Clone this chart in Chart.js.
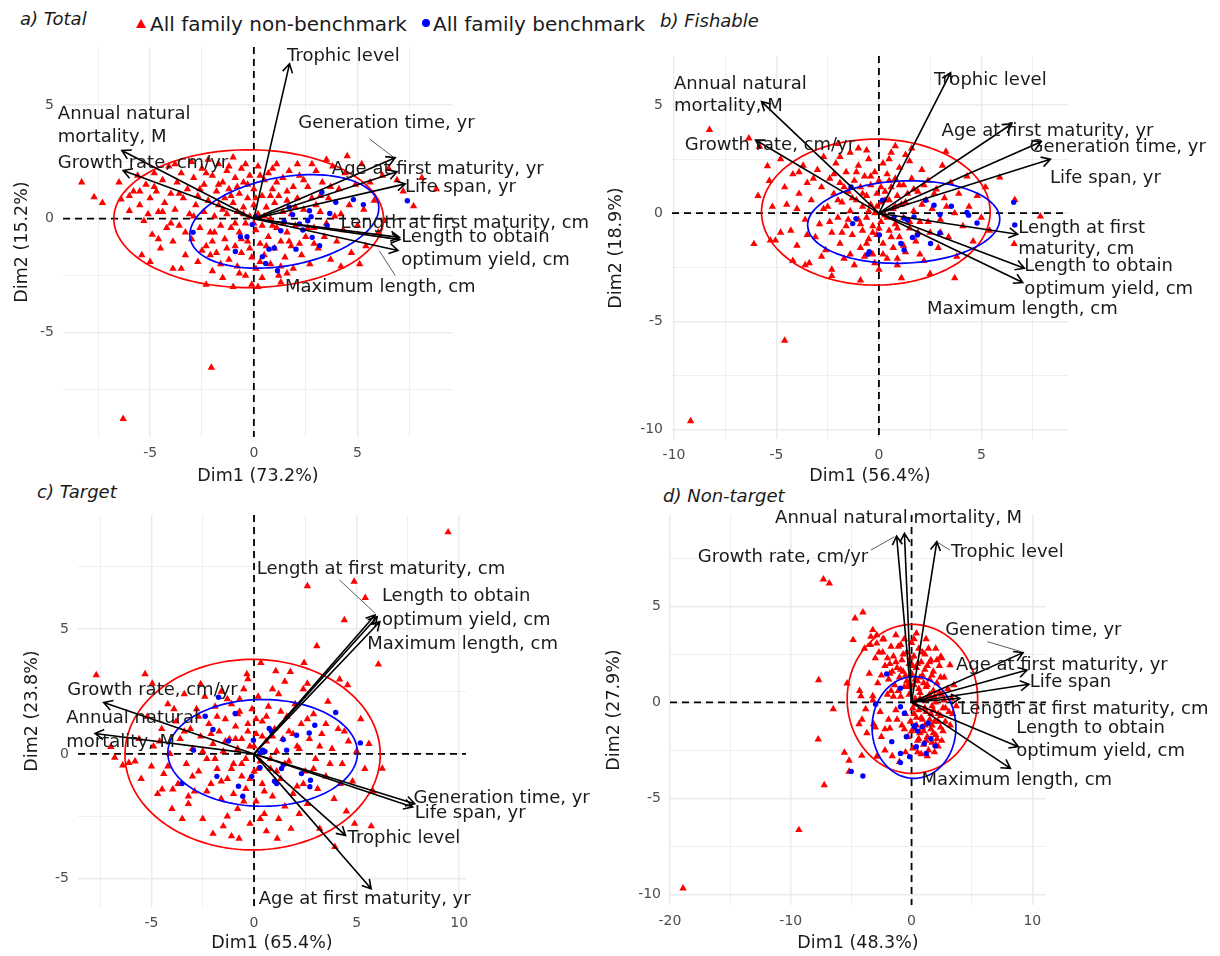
<!DOCTYPE html>
<html>
<head>
<meta charset="utf-8">
<script src="https://cdn.jsdelivr.net/npm/chart.js@4.4.1/dist/chart.umd.min.js"></script>
<style>
body { margin:0; background:#fff; width:1220px; height:956px; position:relative; overflow:hidden; font-family:"DejaVu Sans", sans-serif; }
canvas { position:absolute; left:0; top:0; }
.ttl { position:absolute; font-style:italic; font-size:18px; line-height:22px; color:#1a1a1a; white-space:nowrap; }
.leg { position:absolute; font-size:20px; line-height:24px; color:#1a1a1a; white-space:nowrap; }
.tri { position:absolute; width:0; height:0; border-left:5px solid transparent; border-right:5px solid transparent; border-bottom:9px solid #FF0000; }
.dot { position:absolute; width:8px; height:8px; border-radius:50%; background:#0000FF; }
</style>
</head>
<body>
<div class="ttl" style="left:20px;top:8px">a) Total</div>
<div class="ttl" style="left:660px;top:10px">b) Fishable</div>
<div class="ttl" style="left:37px;top:481px">c) Target</div>
<div class="ttl" style="left:663px;top:485px">d) Non-target</div>
<div class="tri" style="left:136px;top:19px"></div>
<div class="leg" style="left:150px;top:12px">All family non-benchmark</div>
<div class="dot" style="left:422px;top:19px"></div>
<div class="leg" style="left:433px;top:12px">All family benchmark</div>
<script>
// variables (arrows), same order in every panel
const varNames = ['Trophic level', 'Annual natural mortality, M', 'Growth rate, cm/yr', 'Generation time, yr',
  'Age at first maturity, yr', 'Life span, yr', 'Length at first maturity, cm',
  'Length to obtain optimum yield, cm', 'Maximum length, cm'];

// ---- a) Total ----
const totalArrowX = [1.72, -6.36, -6.3, 6.81, 6.9, 7.3, 7.02, 7.04, 6.95];
const totalArrowY = [6.81, 3.0, 2.12, 2.68, 2.06, 1.53, -0.82, -0.92, -1.4];
const totalLabels = [['Trophic level', 1.6, 7.14], ['Annual natural', -9.45, 4.57], ['mortality, M', -9.45, 3.59],
  ['Growth rate, cm/yr', -9.45, 2.42], ['Generation time, yr', 2.14, 4.2], ['Age at first maturity, yr', 3.76, 2.15],
  ['Life span, yr', 7.29, 1.36], ['Length at first maturity, cm', 4.18, -0.22], ['Length to obtain', 7.1, -0.83],
  ['optimum yield, cm', 7.1, -1.83], ['Maximum length, cm', 1.5, -3.0]];
const totalLeaders = [[5.57, 3.51, 6.72, 2.71], [6.81, -2.49, 6.05, -1.42]];
const totalEllipses = [[-0.25, 0.0, 6.5, 3.03, 0], [1.47, -0.12, 4.6, 1.95, 9]];
const totalXTicks = [-7.5, -5, -2.5, 0, 2.5, 5, 7.5];
const totalYTicks = [-7.5, -5, -2.5, 0, 2.5, 5];
const totalNonBench = [[-8.3,1.6],[-7.7,0.95],[-7.3,0.7],[-6.5,1.6],[-6.4,0.85],[-6.0,0.35],[-5.8,1.2],[-5.6,1.9],[-5.5,0.6],[-5.3,-0.1],
  [-5.2,1.5],[-5.0,0.9],[-4.9,-0.7],[-4.8,2.0],[-4.7,1.2],[-4.6,0.3],[-4.5,-1.3],[-4.4,1.7],[-4.3,0.7],[-4.2,-0.4],[-4.1,2.3],[-4.0,1.1],
  [-3.9,-1.0],[-3.8,0.4],[-3.7,1.6],[-3.6,-0.3],[-3.5,2.0],[-3.5,-2.2],[-3.4,0.9],[-3.3,-1.6],[-3.2,1.3],[-3.1,0.2],[-3.0,2.5],[-3.0,-0.9],
  [-2.9,1.8],[-2.8,0.6],[-2.7,-1.9],[-2.7,1.0],[-2.6,-0.4],[-2.5,2.2],[-2.4,0.3],[-2.4,1.5],[-2.3,-1.2],[-2.2,2.6],[-2.2,0.8],[-2.1,-0.6],
  [-2.0,1.9],[-2.0,-2.3],[-1.9,0.1],[-1.8,1.2],[-1.8,-1.5],[-1.7,2.4],[-1.7,0.6],[-1.6,-0.3],[-1.5,1.6],[-1.5,-2.6],[-1.4,0.9],[-1.4,-0.9],
  [-1.3,2.1],[-1.3,0.2],[-1.2,1.3],[-1.2,-1.8],[-1.1,-0.4],[-1.0,0.7],[-1.0,2.7],[-0.9,1.8],[-0.9,-1.2],[-0.8,0.3],[-0.8,-2.1],[-0.7,1.1],
  [-0.7,-0.6],[-0.6,2.2],[-0.6,-1.5],[-0.5,0.5],[-0.5,1.6],[-0.4,-0.2],[-0.4,-2.5],[-0.3,0.9],[-0.3,-1.0],[-0.2,1.9],[-0.2,0.1],[-0.1,-1.7],
  [0.0,0.6],[0.0,1.3],[0.1,-0.5],[0.1,-2.2],[0.2,2.3],[0.2,0.2],[0.3,-1.1],[0.4,1.0],[0.4,-0.3],[0.5,1.7],[0.5,-1.6],[0.6,0.5],[0.7,-0.8],
  [0.7,2.0],[0.8,-2.0],[0.8,0.0],[0.9,1.3],[1.0,-1.3],[1.0,0.7],[1.1,2.4],[1.1,-0.4],[1.2,-2.5],[1.2,1.0],[1.3,-1.0],[1.4,0.3],[1.4,1.8],
  [1.5,-1.7],[1.6,0.8],[1.6,-0.6],[1.7,2.1],[1.8,-1.2],[1.8,0.2],[1.9,1.4],[1.9,-2.2],[2.0,-0.3],[2.1,0.9],[2.2,1.9],[2.3,-1.6],[2.4,0.4],
  [2.5,-0.8],[2.6,1.4],[2.7,-2.0],[2.8,0.9],[2.9,-0.4],[3.0,2.1],[3.1,-1.3],[3.2,0.3],[3.3,1.6],[3.4,-0.8],[3.6,0.9],[3.7,-1.8],[3.8,2.3],
  [3.9,0.1],[4.0,-1.0],[4.1,1.3],[4.3,-0.5],[4.4,2.0],[4.5,2.75],[4.6,0.6],[4.7,-1.5],[4.9,1.5],[5.0,-0.3],[5.2,2.4],[5.3,0.4],[5.4,-1.2],
  [5.6,1.6],[5.8,0.8],[6.0,-0.6],[6.2,1.9],[6.5,2.2],[6.9,1.7],[7.2,1.2],[7.7,0.55],[8.1,1.8],[8.8,1.3],[5.1,-2.0],[4.2,-2.1],[6.3,-0.1],
  [3.5,2.6],[-2.05,-6.55],[-6.3,-8.8],[-2.3,-2.9],[-1.0,-3.0],[0.2,-3.0],[1.3,-2.8],[-3.9,-2.2],[-5.4,-1.6],[-5.0,-1.9],
  [-2.9,0.1],[-2.6,1.3],[-2.3,2.0],[-2.1,-1.6],[-1.9,-0.6],[-1.7,1.5],[-1.5,0.4],[-1.3,-1.3],[-1.1,1.0],[-0.9,-0.2],[-0.8,1.4],[-0.6,-0.9],
  [-0.5,0.2],[-0.3,1.5],[-0.2,-1.3],[0.0,-0.2],[0.1,0.9],[0.3,1.9],[0.3,-1.9],[0.5,0.1],[0.6,-1.2],[0.8,1.0],[0.9,-0.3],[1.1,1.6],
  [1.3,-2.1],[1.4,-0.2],[1.6,1.2],[1.7,-1.0],[2.0,0.5],[2.2,-1.1],[2.4,1.7],[2.6,-0.4],[2.9,-1.1],[3.2,1.0],[3.5,-0.2],[-3.3,-0.6],
  [-3.6,1.1],[-4.0,-0.2],[-4.4,0.3],[-4.8,1.4],[-5.1,0.2],[-5.5,1.2],[-6.0,1.0],[-2.5,-1.4],[-2.0,-1.0],[-1.2,2.3],[-0.4,2.4],[0.9,2.2],
  [-0.7,-2.4],[0.4,-2.6],[1.6,-2.4],[2.1,2.4],[2.8,2.4],[3.0,0.6],[3.7,1.4],[4.2,0.2],[-3.8,2.4],[-4.6,-0.9],[-1.6,-2.0],[-0.1,-2.9]];
const totalBench = [[7.4,0.79],[5.28,0.62],[4.8,0.84],[3.95,0.72],[3.28,1.16],[2.68,0.35],[2.76,0.09],[1.87,0.18],[1.46,-0.12],[3.53,-0.31],
  [2.81,-0.82],[3.17,-1.19],[2.03,-1.34],[0.98,-1.29],[0.73,-1.34],[0.41,-1.67],[0.57,-1.97],[1.14,-2.29],[-0.89,-1.44],[-0.65,-0.79],
  [-0.33,-0.79],[-2.93,-0.6],[-0.08,-0.26],[0.08,0.09],[1.3,-0.53],[2.2,-0.23],[2.6,-0.09],[1.7,0.5],[3.66,0.23],[2.36,-0.5]];

// ---- b) Fishable ----
const fishArrowX = [3.5, -5.73, -6.02, 7.92, 6.48, 8.37, 6.77, 7.1, 7.02];
const fishArrowY = [6.49, 5.15, 3.38, 3.3, 4.12, 2.49, -0.97, -2.54, -3.2];
const fishLabels = [['Trophic level', 2.69, 6.12], ['Annual natural', -10.0, 5.97], ['mortality, M', -10.0, 4.92],
  ['Growth rate, cm/yr', -9.48, 3.15], ['Age at first maturity, yr', 3.06, 3.8], ['Generation time, yr', 7.35, 3.05],
  ['Life span, yr', 8.35, 1.62], ['Length at first', 6.8, -0.69], ['maturity, cm', 6.8, -1.69],
  ['Length to obtain', 7.1, -2.46], ['optimum yield, cm', 7.1, -3.5], ['Maximum length, cm', 2.35, -4.46]];
const fishLeaders = [];
const fishEllipses = [[-0.15, 0.05, 5.58, 3.37, 0], [1.21, -0.41, 4.69, 1.9, 2]];
const fishXTicks = [-10, -7.5, -5, -2.5, 0, 2.5, 5, 7.5];
const fishYTicks = [-10, -7.5, -5, -2.5, 0, 2.5, 5];
const fishNonBench = [[-8.27,3.85],[-6.35,3.46],[-5.83,3.08],[-9.19,-9.6],[-4.6,-5.88],[-6.1,-1.42],[-5.9,0.8],[-5.44,2.18],[-5.35,1.49],
  [-5.2,0.3],[-5.3,-1.26],[-5.05,-1.26],[6.63,0.62],[7.88,-0.15],[6.6,-1.42],[5.9,1.65],[3.7,-3.0],[3.27,2.85],
  [-4.8,2.5],[-4.6,1.2],[-4.5,0.4],[-4.3,-0.8],[-4.2,1.8],[-4.0,-1.5],[-3.9,0.9],[-3.7,2.2],[-3.6,-0.3],[-3.5,1.4],[-3.4,-2.3],[-3.3,0.6],
  [-3.1,-1.1],[-3.0,2.0],[-2.9,-0.5],[-2.8,1.2],[-2.7,2.6],[-2.6,-1.7],[-2.5,0.3],[-2.4,1.6],[-2.3,-2.6],[-2.3,-0.9],[-2.2,0.9],[-2.1,2.3],
  [-2.0,-0.2],[-1.9,1.4],[-1.9,-1.4],[-1.8,0.5],[-1.7,-2.1],[-1.6,1.9],[-1.6,-0.6],[-1.5,1.0],[-1.4,2.8],[-1.4,0.1],[-1.3,-1.0],[-1.2,1.5],
  [-1.2,-2.4],[-1.1,0.6],[-1.0,-0.3],[-1.0,2.2],[-0.9,1.2],[-0.9,-1.6],[-0.8,0.3],[-0.8,-0.8],[-0.7,1.7],[-0.7,-2.0],[-0.6,0.8],[-0.6,-0.2],
  [-0.5,2.5],[-0.5,-1.2],[-0.4,1.3],[-0.4,0.4],[-0.3,-0.6],[-0.3,-1.9],[-0.2,1.9],[-0.2,0.0],[-0.1,0.9],[-0.1,-1.0],[0.0,-2.6],[0.0,1.5],
  [0.1,0.5],[0.1,-0.4],[0.2,2.3],[0.2,-1.4],[0.3,1.0],[0.3,-0.1],[0.4,-2.1],[0.4,1.8],[0.5,0.6],[0.5,-0.8],[0.6,2.8],[0.6,1.2],[0.7,-1.6],
  [0.7,0.2],[0.8,1.6],[0.8,-0.5],[0.9,-2.4],[0.9,0.8],[1.0,2.1],[1.0,-1.1],[1.1,0.4],[1.2,1.3],[1.2,-0.2],[1.3,-1.8],[1.4,0.9],[1.5,2.4],
  [1.5,-0.7],[1.6,1.6],[1.7,0.1],[1.8,-1.3],[1.9,1.0],[2.0,-0.4],[2.1,2.0],[2.2,-2.2],[2.3,0.6],[2.4,1.5],[2.5,-0.9],[2.6,0.2],[2.8,1.1],
  [2.9,-1.6],[3.0,-0.3],[3.1,2.2],[3.2,0.7],[3.4,-1.1],[3.5,1.4],[3.7,0.0],[3.8,-2.0],[3.9,0.9],[4.1,-0.6],[4.3,1.7],[4.4,0.3],[4.6,-1.3],
  [4.8,0.8],[5.0,-0.2],[5.2,1.2],[5.4,-0.8],[-2.0,3.2],[-1.0,3.0],[0.8,3.1],[1.6,3.0],[-3.6,-2.4],[-2.3,-2.9],[-0.9,-3.1],[1.1,-3.0],
  [2.5,-2.8],[-4.2,-2.2],[-4.8,-0.9],
  [-2.7,0.2],[-2.4,-0.4],[-2.2,1.8],[-2.0,0.6],[-1.8,-0.9],[-1.7,1.2],[-1.5,-0.3],[-1.3,0.7],[-1.1,1.9],[-0.9,-0.5],[-0.8,0.9],[-0.6,-1.4],
  [-0.5,0.1],[-0.4,1.7],[-0.3,-0.9],[-0.1,0.3],[0.0,-0.7],[0.1,1.2],[0.2,-1.9],[0.3,0.6],[0.4,-0.2],[0.5,1.5],[0.6,-1.1],[0.8,0.3],
  [0.9,-0.7],[1.0,1.3],[1.2,-1.5],[1.3,0.5],[1.5,-0.4],[1.7,1.1],[1.9,-0.9],[2.1,0.4],[2.4,-0.4],[2.7,0.9],[3.0,-0.9],[3.3,0.3],
  [-3.2,1.6],[-3.5,-1.0],[-2.8,-2.0],[-1.9,2.6],[-0.6,2.9],[0.5,2.5],[1.3,2.7],[2.2,1.3],[-0.2,-2.3],[0.9,-2.1],[-1.4,-1.9],[2.0,-1.9],
  [-4.0,0.2],[-3.9,1.9]];
const fishBench = [[6.58,0.5],[6.63,-0.54],[4.79,-0.45],[4.38,-0.09],[4.3,0.03],[3.54,0.32],[2.98,-0.06],[2.69,0.37],[2.28,0.6],[1.71,-0.17],
  [1.88,-1.01],[1.64,-1.12],[1.23,-1.7],[1.07,-1.4],[1.39,-0.32],[1.23,-0.23],[0.74,-0.17],[0.02,-1.01],[-0.47,-1.78],[-0.55,-1.9],
  [-1.28,-0.48],[-1.12,-0.25],[0.18,0.6],[-1.36,1.21],[2.98,-0.91],[2.52,-1.4]];

// ---- c) Target ----
const targetArrowX = [4.46, -7.75, -7.33, 7.83, 5.71, 7.73, 5.9, 6.0, 6.13];
const targetArrowY = [-3.27, 0.82, 2.06, -2.0, -5.41, -2.13, 5.57, 5.5, 5.3];
const targetLabels = [['Length at first maturity, cm', 0.13, 7.42], ['Length to obtain', 6.23, 6.3], ['optimum yield, cm', 6.23, 5.37],
  ['Maximum length, cm', 5.52, 4.39], ['Growth rate, cm/yr', -9.1, 2.56], ['Annual natural', -9.15, 1.42], ['mortality, M', -9.15, 0.48],
  ['Generation time, yr', 7.77, -1.79], ['Life span, yr', 7.83, -2.4], ['Trophic level', 4.56, -3.4], ['Age at first maturity, yr', 0.23, -5.84]];
const targetLeaders = [[4.17, 6.97, 5.9, 5.64]];
const targetEllipses = [[-0.07, -0.03, 6.22, 3.82, 0], [0.42, 0.04, 4.62, 2.14, 0]];
const targetXTicks = [-7.5, -5, -2.5, 0, 2.5, 5, 7.5, 10];
const targetYTicks = [-5, -2.5, 0, 2.5, 5, 7.5];
const targetNonBench = [[9.46,8.89],[2.6,6.73],[4.88,6.91],[5.42,6.26],[4.4,5.37],[3.06,4.32],[6.06,3.59],[-7.69,3.16],[-5.31,3.2],[-4.96,2.82],
  [5.71,-2.9],[3.94,-3.73],[6.25,-0.59],[-6.98,0.28],[-6.79,-0.15],[-6.4,-0.46],[-6.1,-0.36],[-4.48,-1.42],[-3.96,-1.42],[-0.73,-3.4],
  [1.13,-3.4],[2.44,3.65],[0.33,3.65],[-0.35,3.2],[1.06,3.32],[1.77,3.29],[4.17,2.99],[4.56,2.76],[2.6,2.82],
  [-5.8,-0.3],[-5.6,0.6],[-5.5,-1.0],[-5.2,1.5],[-5.0,-0.5],[-4.9,0.3],[-4.7,-1.6],[-4.5,1.0],[-4.4,-0.8],[-4.2,2.0],[-4.1,0.0],[-4.0,-2.2],
  [-3.8,1.3],[-3.7,-1.2],[-3.6,0.6],[-3.4,2.4],[-3.3,-0.4],[-3.2,-2.0],[-3.1,1.0],[-3.0,0.2],[-2.9,-1.5],[-2.8,1.8],[-2.7,-0.7],[-2.6,0.7],
  [-2.5,-2.6],[-2.4,2.3],[-2.3,-0.2],[-2.2,1.2],[-2.1,-1.2],[-2.0,0.4],[-2.0,-3.2],[-1.9,1.9],[-1.8,-0.6],[-1.7,0.9],[-1.6,-1.8],[-1.6,2.5],
  [-1.5,0.1],[-1.4,1.4],[-1.3,-1.0],[-1.3,-2.5],[-1.2,0.6],[-1.1,2.0],[-1.0,-0.4],[-1.0,-1.6],[-0.9,1.1],[-0.8,0.2],[-0.8,-2.2],[-0.7,1.7],
  [-0.6,-0.9],[-0.6,0.6],[-0.5,2.6],[-0.4,-0.2],[-0.4,-1.4],[-0.3,1.2],[-0.2,-2.8],[-0.2,0.3],[-0.1,1.8],[0.0,-0.7],[0.1,0.8],[0.1,-1.9],
  [0.2,2.3],[0.3,-0.3],[0.4,1.3],[0.4,-1.2],[0.5,-2.4],[0.6,0.5],[0.7,1.9],[0.8,-0.6],[0.9,-1.7],[1.0,1.0],[1.1,0.1],[1.2,2.4],[1.3,-1.0],
  [1.4,0.6],[1.5,-2.1],[1.6,1.5],[1.7,-0.3],[1.8,-3.0],[1.9,0.8],[2.0,2.0],[2.1,-1.3],[2.2,0.2],[2.3,1.2],[2.5,-0.7],[2.6,-2.0],[2.7,0.6],
  [2.9,1.6],[3.0,-0.2],[3.1,-1.4],[3.3,0.8],[3.5,-0.9],[3.6,2.1],[3.8,0.2],[3.9,-1.8],[4.1,1.0],[4.3,-0.4],[4.5,-2.3],[4.6,0.5],[4.8,-1.1],
  [5.0,0.1],[5.2,1.4],[5.4,-0.6],[5.6,0.4],[5.8,-1.5],[4.9,-2.8],[3.2,-3.0],[-1.1,-3.3],[0.6,-3.1],[-3.5,-2.6],[1.5,2.9],[-2.6,2.8],
  [2.4,2.6],[-0.3,3.0],
  [-3.4,0.9],[-3.0,-0.9],[-2.7,1.5],[-2.5,0.1],[-2.3,-1.5],[-2.1,0.8],[-1.9,-0.2],[-1.8,1.5],[-1.6,-1.1],[-1.4,0.5],[-1.3,2.2],[-1.1,-0.6],
  [-0.9,0.6],[-0.8,1.6],[-0.6,-0.4],[-0.5,-1.9],[-0.3,0.9],[-0.2,-1.0],[0.0,0.3],[0.1,1.4],[0.2,-0.6],[0.4,0.7],[0.5,-1.5],[0.6,1.5],
  [0.8,-0.2],[0.9,0.7],[1.1,-0.7],[1.3,1.7],[1.5,-0.4],[1.7,0.9],[1.9,-1.6],[2.1,0.3],[2.4,-1.2],[2.6,1.4],[2.9,-0.6],[3.2,0.3],
  [3.5,1.2],[3.7,-0.4],[4.2,-1.2],[4.4,0.9],[-4.2,-0.5],[-4.6,0.5],[-3.9,1.8],[-3.2,-1.7],[-1.5,-2.9],[0.3,-2.6],[1.2,-2.6],[2.2,-2.4],
  [-0.7,2.2],[0.9,2.6]];
const targetBench = [[-1.73,2.27],[-2.38,1.51],[-2.0,0.98],[-0.92,1.62],[0.74,1.02],[0.85,0.9],[-0.03,0.55],[0.42,0.15],[0.53,0.1],[0.29,0.04],
  [1.42,0.58],[2.07,0.75],[2.69,0.84],[2.96,1.15],[3.98,1.66],[5.18,0.44],[1.34,-0.59],[1.42,-0.45],[2.31,-0.79],[2.75,-1.06],[2.72,-1.32],
  [1.1,-1.19],[0.29,-0.55],[-0.11,-0.9],[-0.76,-1.3],[-0.55,-1.7],[-1.81,-0.9],[-3.51,-1.19],[-2.95,0.15],[-1.25,0.52],[1.59,0.15],[1.0,-1.1]];

// ---- d) Non-target ----
const nonTargetArrowX = [2.09, -0.59, -1.24, 9.23, 9.56, 9.72, 4.0, 8.84, 8.18];
const nonTargetArrowY = [8.37, 8.8, 8.66, 2.59, 1.68, 0.94, 0.21, -2.31, -3.44];
const nonTargetLabels = [['Annual natural mortality, M', -11.3, 9.58], ['Growth rate, cm/yr', -17.7, 7.55], ['Trophic level', 3.27, 7.8],
  ['Generation time, yr', 2.78, 3.73], ['Age at first maturity, yr', 3.67, 1.94], ['Life span', 9.79, 1.04],
  ['Length at first maturity, cm', 4.0, -0.36], ['Length to obtain', 8.67, -1.35], ['optimum yield, cm', 8.67, -2.53],
  ['Maximum length, cm', 0.82, -4.08]];
const nonTargetLeaders = [[-3.37, 7.93, -1.41, 8.63], [3.18, 7.93, 2.19, 8.32], [6.28, 3.16, 9.07, 2.64]];
const nonTargetEllipses = [[0.07, 0.18, 5.4, 3.88, 0], [0.2, -1.31, 3.47, 2.65, 0]];
const nonTargetXTicks = [-20, -15, -10, -5, 0, 5, 10];
const nonTargetYTicks = [-10, -7.5, -5, -2.5, 0, 2.5, 5, 7.5];
const nonTargetNonBench = [[-18.92,-9.69],[-9.33,-6.65],[-7.23,-4.31],[-7.3,6.41],[-6.81,6.2],[-4.03,4.69],[-4.68,4.38],[-7.69,1.16],
  [-6.48,-0.35],[-7.73,-1.93],[-5.56,-2.62],[-5.17,-3.04],[-5.17,-3.61],[-4.12,-2.78],[-4.84,3.25],[-5.34,0.99],[-4.19,0.33],[-3.21,0.33],
  [-4.35,-1.13],[-3.8,-0.35],[-3.14,-1.13],[-2.88,-2.83],[-1.8,-1.35],[3.18,1.94],[2.42,2.38],[-3.21,3.77],[-2.88,3.5],[-3.37,3.42],
  [-2.39,3.28],[-2.88,3.07],
  [-2.4,2.6],[-2.2,1.9],[-2.0,2.3],[-1.9,1.2],[-1.8,2.0],[-1.7,0.6],[-1.6,1.6],[-1.5,2.4],[-1.4,0.9],[-1.3,-0.4],[-1.2,1.8],[-1.1,2.9],
  [-1.0,1.3],[-0.9,0.3],[-0.8,2.2],[-0.8,-1.2],[-0.7,1.6],[-0.6,3.3],[-0.6,0.8],[-0.5,-0.6],[-0.4,2.6],[-0.4,1.1],[-0.3,-1.8],[-0.2,0.4],
  [-0.2,2.0],[-0.1,-1.0],[0.0,1.5],[0.0,3.1],[0.1,-0.3],[0.1,-2.4],[0.2,0.9],[0.2,2.4],[0.3,-1.4],[0.3,0.2],[0.4,1.8],[0.4,-0.8],
  [0.5,-2.0],[0.5,1.1],[0.6,2.8],[0.6,-0.4],[0.7,0.5],[0.7,-1.6],[0.8,2.1],[0.8,-2.7],[0.9,-0.9],[0.9,1.4],[1.0,0.1],[1.0,-2.2],[1.1,2.5],
  [1.1,-1.2],[1.2,0.8],[1.2,-0.5],[1.3,1.9],[1.3,-1.8],[1.4,-2.5],[1.4,0.3],[1.5,1.2],[1.5,-0.9],[1.6,2.2],[1.6,-1.4],[1.7,-0.2],[1.7,-2.1],
  [1.8,0.6],[1.8,1.6],[1.9,-1.0],[1.9,-2.6],[2.0,0.0],[2.0,-1.7],[2.1,1.0],[2.2,-0.6],[2.2,-2.3],[2.3,1.9],[2.4,-1.3],[2.5,0.4],[2.6,-0.3],
  [2.7,1.3],[2.8,-1.0],[3.0,0.7],[3.1,-0.5],[3.3,0.2],[3.5,0.9],[3.7,-0.2],[-2.6,-0.5],[-2.8,1.0],[-3.0,2.3],[-3.2,0.1],[-3.5,1.5],
  [-3.7,-1.6],[-3.9,2.8],[-4.1,-0.9],[-4.3,0.6],[-2.5,-1.8],[-2.2,-2.5],[-1.6,-2.8],[-1.0,-3.1],[-0.5,-2.6],[-1.9,-0.9],[-2.3,3.3],
  [-1.3,3.5],[0.4,3.6],[1.2,3.3],[2.0,2.8],[2.5,2.3],[-3.4,3.0],
  [-1.8,1.5],[-1.5,0.3],[-1.3,2.1],[-1.1,0.6],[-0.9,1.7],[-0.7,2.5],[-0.5,1.4],[-0.3,0.8],[-0.1,2.3],[0.1,1.9],[0.3,1.2],[0.5,2.0],
  [0.7,1.3],[0.9,2.6],[1.1,1.7],[1.3,0.9],[1.5,2.1],[1.7,1.4],[0.2,-0.6],[0.4,-1.2],[0.6,-1.9],[0.8,-0.8],[1.0,-1.5],[1.2,-2.0],
  [1.4,-1.1],[1.6,-0.6],[1.8,-1.6],[2.0,-2.2],[2.2,-1.0],[2.4,-0.7],[2.6,-1.5],[2.8,-0.3],[0.5,-2.6],[0.9,-1.3],[1.3,-2.8],[1.7,-1.2],
  [2.1,-1.9],[2.5,-2.0],[0.3,-0.1],[0.7,0.2],[1.1,-0.3],[1.5,0.4],[1.9,0.3],[2.3,0.5],[2.7,0.1],[3.2,-1.2],[3.4,-0.6],[-0.6,-1.4],
  [-1.2,-0.9],[-2.0,0.4],[-2.5,1.4],[-2.7,2.6],[-1.7,2.9],[-0.9,3.0],[0.2,3.3],[1.4,2.8],[2.1,2.2],[-3.0,-1.3],[-2.2,-1.4],[1.0,1.0],
  [0.6,0.7],[1.8,-0.4],[2.4,1.3],[-0.2,1.0],[0.0,-1.5]];
const nonTargetBench = [[-4.03,-3.84],[-5.0,-3.6],[-0.92,-3.14],[-0.92,-2.66],[-1.64,-2.05],[-0.43,-1.79],[0.23,-1.27],[0.3,-1.2],[0.39,-2.31],
  [1.21,-2.66],[1.96,-2.27],[1.05,-2.14],[-0.59,-0.57],[-0.92,-0.23],[-2.98,-0.1],[-2.06,1.48],[-0.16,-2.83],[0.88,-1.27],[1.37,-1.09],
  [-0.92,0.73],[0.5,-1.5],[1.6,-1.9]];

// panel layout (page pixels) and axis limits
const panels = [
  { area: [63, 47, 453, 437], xr: [-9.2, 9.6], yr: [-9.6, 7.55], xMajor: 5, xTitle: 'Dim1 (73.2%)', yTitle: 'Dim2 (15.2%)',
    xTitlePos: [258, 476], yTitlePos: [22, 242], xTicks: totalXTicks, yTicks: totalYTicks,
    ax: totalArrowX, ay: totalArrowY, labels: totalLabels, leaders: totalLeaders, ellipses: totalEllipses,
    nonBench: totalNonBench, bench: totalBench },
  { area: [672, 56, 1068, 439], xr: [-10.1, 9.23], yr: [-10.43, 7.26], xMajor: 5, xTitle: 'Dim1 (56.4%)', yTitle: 'Dim2 (18.9%)',
    xTitlePos: [870, 476], yTitlePos: [616, 248], xTicks: fishXTicks, yTicks: fishYTicks,
    ax: fishArrowX, ay: fishArrowY, labels: fishLabels, leaders: fishLeaders, ellipses: fishEllipses,
    nonBench: fishNonBench, bench: fishBench },
  { area: [78, 515, 466, 907], xr: [-8.58, 10.33], yr: [-6.14, 9.58], xMajor: 5, xTitle: 'Dim1 (65.4%)', yTitle: 'Dim2 (23.8%)',
    xTitlePos: [272, 943], yTitlePos: [32, 711], xTicks: targetXTicks, yTicks: targetYTicks,
    ax: targetArrowX, ay: targetArrowY, labels: targetLabels, leaders: targetLeaders, ellipses: targetEllipses,
    nonBench: targetNonBench, bench: targetBench },
  { area: [670, 515, 1046, 905], xr: [-20.0, 11.13], yr: [-10.56, 9.76], xMajor: 10, xTitle: 'Dim1 (48.3%)', yTitle: 'Dim2 (27.9%)',
    xTitlePos: [858, 943], yTitlePos: [614, 710], xTicks: nonTargetXTicks, yTicks: nonTargetYTicks,
    ax: nonTargetArrowX, ay: nonTargetArrowY, labels: nonTargetLabels, leaders: nonTargetLeaders, ellipses: nonTargetEllipses,
    nonBench: nonTargetNonBench, bench: nonTargetBench }
];

const TEXT = '#1a1a1a';

function drawEllipse(ctx, xs, ys, e, color) {
  const [cx, cy, a, b, deg] = e;
  const th = deg * Math.PI / 180;
  ctx.beginPath();
  for (let i = 0; i <= 160; i++) {
    const t = i / 160 * 2 * Math.PI;
    const x = cx + a * Math.cos(t) * Math.cos(th) - b * Math.sin(t) * Math.sin(th);
    const y = cy + a * Math.cos(t) * Math.sin(th) + b * Math.sin(t) * Math.cos(th);
    const px = xs.getPixelForValue(x), py = ys.getPixelForValue(y);
    if (i === 0) ctx.moveTo(px, py); else ctx.lineTo(px, py);
  }
  ctx.closePath();
  ctx.strokeStyle = color;
  ctx.lineWidth = 1.7;
  ctx.stroke();
}

function drawArrow(ctx, x0, y0, x1, y1) {
  const ang = Math.atan2(y1 - y0, x1 - x0), h = 10, w = Math.PI / 6;
  ctx.beginPath();
  ctx.moveTo(x0, y0); ctx.lineTo(x1, y1);
  ctx.moveTo(x1 - h * Math.cos(ang - w), y1 - h * Math.sin(ang - w));
  ctx.lineTo(x1, y1);
  ctx.lineTo(x1 - h * Math.cos(ang + w), y1 - h * Math.sin(ang + w));
  ctx.stroke();
}

function makePanel(p) {
  const cv = document.createElement('canvas');
  cv.width = 1220; cv.height = 956;
  document.body.appendChild(cv);
  const [L, T, R, B] = p.area;

  const biplot = {
    id: 'biplot',
    beforeDatasetsDraw(chart) {
      const { ctx, chartArea: a } = chart;
      const xs = chart.scales.x, ys = chart.scales.y;
      ctx.save();
      ctx.strokeStyle = '#000';
      ctx.lineWidth = 1.8;
      ctx.setLineDash([7, 5]);
      ctx.beginPath();
      ctx.moveTo(a.left, ys.getPixelForValue(0)); ctx.lineTo(a.right, ys.getPixelForValue(0));
      ctx.moveTo(xs.getPixelForValue(0), a.top); ctx.lineTo(xs.getPixelForValue(0), a.bottom);
      ctx.stroke();
      ctx.restore();
    },
    afterDatasetsDraw(chart) {
      const ctx = chart.ctx;
      const xs = chart.scales.x, ys = chart.scales.y;
      ctx.save();
      drawEllipse(ctx, xs, ys, p.ellipses[0], '#FF0000');
      drawEllipse(ctx, xs, ys, p.ellipses[1], '#0000FF');
      // loadings arrows
      ctx.strokeStyle = '#000';
      ctx.lineWidth = 1.6;
      const ox = xs.getPixelForValue(0), oy = ys.getPixelForValue(0);
      varNames.forEach((n, i) => {
        drawArrow(ctx, ox, oy, xs.getPixelForValue(p.ax[i]), ys.getPixelForValue(p.ay[i]));
      });
      // repel leader segments
      ctx.lineWidth = 0.8;
      ctx.strokeStyle = '#333';
      p.leaders.forEach(s => {
        ctx.beginPath();
        ctx.moveTo(xs.getPixelForValue(s[0]), ys.getPixelForValue(s[1]));
        ctx.lineTo(xs.getPixelForValue(s[2]), ys.getPixelForValue(s[3]));
        ctx.stroke();
      });
      ctx.fillStyle = TEXT;
      ctx.font = '18px "DejaVu Sans"';
      ctx.textAlign = 'left';
      ctx.textBaseline = 'middle';
      p.labels.forEach(([t, x, y]) => ctx.fillText(t, xs.getPixelForValue(x), ys.getPixelForValue(y)));
      // axis titles
      ctx.font = '17.5px "DejaVu Sans"';
      ctx.textAlign = 'center';
      ctx.fillText(p.xTitle, p.xTitlePos[0], p.xTitlePos[1]);
      ctx.translate(p.yTitlePos[0], p.yTitlePos[1]);
      ctx.rotate(-Math.PI / 2);
      ctx.fillText(p.yTitle, 0, 0);
      ctx.restore();
    }
  };

  const isMajorX = v => Math.abs(v % p.xMajor) < 1e-9;
  const isMajorY = v => Math.abs(v % 5) < 1e-9;

  new Chart(cv, {
    type: 'scatter',
    data: {
      datasets: [
        { label: 'All family benchmark', data: p.bench.map(([x, y]) => ({ x, y })), order: 0,
          pointStyle: 'circle', pointRadius: 2.7, backgroundColor: '#0000FF', borderWidth: 0 },
        { label: 'All family non-benchmark', data: p.nonBench.map(([x, y]) => ({ x, y })), order: 1,
          pointStyle: 'triangle', pointRadius: 4.3, backgroundColor: '#FF0000', borderWidth: 0 }
      ]
    },
    options: {
      responsive: false,
      animation: false,
      layout: { autoPadding: false, padding: { left: L - 40, top: T, right: 1220 - R, bottom: 956 - B - 40 } },
      plugins: { legend: { display: false }, tooltip: { enabled: false } },
      scales: {
        x: {
          type: 'linear', min: p.xr[0], max: p.xr[1],
          afterFit(s) { s.height = 40; },
          afterBuildTicks(s) { s.ticks = p.xTicks.map(v => ({ value: v })); },
          border: { display: false },
          grid: { color: '#EBEBEB', lineWidth: c => isMajorX(c.tick.value) ? 1.5 : 0.8, drawTicks: false },
          ticks: { autoSkip: false, maxRotation: 0, padding: 8, color: '#4D4D4D',
            font: { family: 'DejaVu Sans', size: 14 }, callback: v => isMajorX(v) ? String(v) : '' }
        },
        y: {
          type: 'linear', min: p.yr[0], max: p.yr[1],
          afterFit(s) { s.width = 40; },
          afterBuildTicks(s) { s.ticks = p.yTicks.map(v => ({ value: v })); },
          border: { display: false },
          grid: { color: '#EBEBEB', lineWidth: c => isMajorY(c.tick.value) ? 1.5 : 0.8, drawTicks: false },
          ticks: { autoSkip: false, padding: 9, color: '#4D4D4D',
            font: { family: 'DejaVu Sans', size: 14 }, callback: v => isMajorY(v) ? String(v) : '' }
        }
      }
    },
    plugins: [biplot]
  });
}

panels.forEach(makePanel);
</script>
</body>
</html>
